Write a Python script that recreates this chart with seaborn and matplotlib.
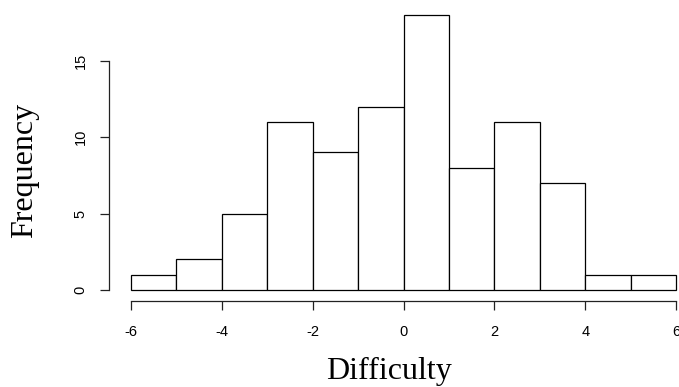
import numpy as np
import matplotlib
matplotlib.use("Agg")
import matplotlib.pyplot as plt
import seaborn as sns

# Data (bin width 1 from -6 to 6)
bin_edges = [-6, -5, -4, -3, -2, -1, 0, 1, 2, 3, 4, 5, 6]
counts = [1, 2, 5, 11, 9, 12, 18, 8, 11, 7, 1, 1]
x_ticks = [-6, -4, -2, 0, 2, 4, 6]
y_ticks = [0, 5, 10, 15]

centers = [(a + b) / 2 for a, b in zip(bin_edges[:-1], bin_edges[1:])]

sns.set_style("white")
fig = plt.figure(figsize=(6.79, 3.87), dpi=100)
W, H = 679, 387
left_px, right_px, bottom_px, top_px = 109, 698, 301, 4
ax = fig.add_axes([left_px / W, (H - bottom_px) / H,
                   (right_px - left_px) / W, (bottom_px - top_px) / H])

sns.histplot(x=centers, weights=counts, bins=bin_edges, ax=ax,
             color="white", edgecolor="black", linewidth=0.9, alpha=1)

ax.set_xlim(-6.48, 6.48)
ax.set_ylim(-0.72, 18.72)
for s in ["top", "right"]:
    ax.spines[s].set_visible(False)
ax.spines["left"].set_bounds(0, 15)
ax.spines["bottom"].set_bounds(-6, 6)
for s in ["left", "bottom"]:
    ax.spines[s].set_color("#222222")
    ax.spines[s].set_linewidth(0.9)

ax.set_xticks(x_ticks)
ax.set_xticklabels([str(v) for v in x_ticks], family="Liberation Sans", fontsize=10.5,
                   color="black")
ax.set_yticks(y_ticks)
ax.set_yticklabels([str(v) for v in y_ticks], family="Liberation Sans", fontsize=10.5,
                   rotation=90, va="center", color="black")
ax.tick_params(axis="x", direction="out", length=6.5, width=0.9, color="#222222", pad=11,
               bottom=True)
ax.tick_params(axis="y", direction="out", length=6.5, width=0.9, color="#222222", pad=9,
               left=True)

ax.set_xlabel("")
ax.set_ylabel("")
fig.text(389 / W, 1 - 371 / H, "Difficulty", family="Liberation Serif", fontsize=23,
         ha="center", va="center", color="black")
fig.text(25 / W, 1 - 170 / H, "Frequency", family="Liberation Serif", fontsize=23,
         ha="center", va="center", rotation=90, color="black")

fig.savefig("out.png", dpi=100)
